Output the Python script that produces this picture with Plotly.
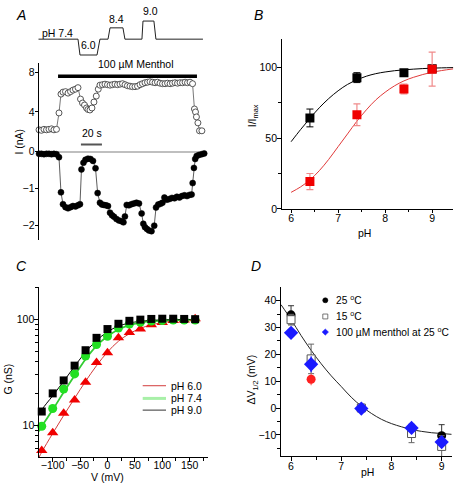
import plotly.graph_objects as go
import math

W, H = 455, 488
def fx(p): return p / W
def fy(p): return 1 - p / H

FONT = "Liberation Sans, Arial, sans-serif"
FS = 10.5

# ---------------- Panel A data ----------------
prot_t  = [0, 37.8, 39.7, 55.9, 58.7, 66.4, 68.3, 80.6, 82.5, 98.7, 99.7, 110.1, 112.0, 156.8]
prot_ph = [7.4, 7.4, 6.0, 6.0, 7.4, 7.4, 8.4, 8.4, 7.4, 7.4, 9.0, 9.0, 7.4, 7.4]
prot_labels = ["pH 7.4", "6.0", "8.4", "9.0"]

open_t = [0.7, 3.0, 5.4, 7.8, 10.2, 12.6, 14.9, 17.3, 19.7, 21.6, 23.5, 25.9, 28.3, 30.7, 33.0, 35.4, 37.8,
          40.2, 42.1, 44.0, 45.9, 47.3, 49.2, 51.1, 53.0, 55.2, 57.1, 58.7,
          61.1, 63.5, 65.9, 68.3, 70.6, 73.0, 75.4, 77.8, 80.2, 82.6, 84.9, 87.3, 89.7, 92.1, 94.5, 96.9,
          99.2, 101.6, 104.0, 106.4, 108.8, 111.2, 113.5, 115.9, 118.3, 120.7, 123.1, 125.5, 127.8, 130.2,
          132.6, 135.0, 137.4, 139.8, 142.1, 144.5, 146.9,
          148.7, 149.7, 150.6, 152.0, 153.5, 155.8]
open_i = [2.2, 2.15, 2.25, 2.2, 2.25, 2.3, 2.2, 2.25, 3.9, 5.8, 6.0, 6.05, 5.9, 6.05, 6.2, 6.3, 6.45,
          5.3, 4.9, 4.7, 4.4, 4.25, 4.2, 4.4, 5.0, 5.6, 6.3, 6.7,
          6.75, 6.8, 6.75, 6.7, 6.75, 6.8, 6.75, 6.8, 6.85, 6.75, 6.65, 6.6, 6.55, 6.55, 6.6, 6.75,
          6.85, 6.95, 7.0, 7.05, 7.0, 6.95, 7.0, 6.9, 6.85, 6.85, 6.9, 6.85, 6.9, 6.95,
          6.9, 6.95, 6.95, 7.0, 6.95, 7.0, 6.85,
          4.3, 4.0, 3.5, 2.9, 2.1, 2.1]

fill_t = [0.7, 3.0, 5.4, 7.8, 10.2, 12.6, 14.9, 17.3, 19.7, 21.6, 23.5, 25.9, 28.3, 30.7, 33.0, 35.4, 37.8, 39.7,
          41.1, 43.0, 44.9, 47.3, 49.7, 52.1, 54.5, 56.5, 58.7, 60.6, 62.5, 64.5, 66.4, 68.3, 70.2, 72.1,
          74.4, 76.8, 79.2, 81.1, 82.5, 84.2, 86.3, 88.7, 91.1, 93.5, 95.9, 98.4, 100.0, 101.6, 103.5,
          105.4, 107.8, 110.4, 112.1, 114.2, 116.3, 118.2, 120.1, 122.5, 124.9, 127.3, 129.7, 132.0,
          134.4, 136.8, 139.2, 141.6, 143.9, 146.0, 147.0, 148.2, 149.4, 150.8, 153.0, 155.6, 158.0]
fill_i = [-0.06, -0.06, -0.07, -0.06, -0.06, -0.07, -0.06, -0.07, -0.15, -1.1, -1.42, -1.5, -1.53, -1.5, -1.47, -1.48, -1.45, -1.42,
          -0.48, -0.3, -0.22, -0.19, -0.2, -0.25, -0.45, -1.12, -1.38, -1.43, -1.44, -1.45, -1.47, -1.65, -1.72, -1.76,
          -1.82, -1.86, -1.88, -1.91, -1.75, -1.44, -1.45, -1.42, -1.4, -1.38, -1.4, -1.67, -1.95, -2.04, -2.09,
          -2.13, -2.15, -2.0, -1.51, -1.43, -1.41, -1.38, -1.24, -1.3, -1.28, -1.25, -1.26, -1.22,
          -1.24, -1.2, -1.18, -1.2, -1.17, -1.16, -0.85, -0.44, -0.2, -0.12, -0.09, -0.07, -0.05]

menthol_on, menthol_off, menthol_level = 18.8, 151.1, 7.6
scalebar_start, scalebar_len, scalebar_level = 40.6, 20, 0.72

# ---------------- Panel B data ----------------
b_ph = [6.4, 7.4, 8.4, 9.0]
b_black = [64.3, 92.8, 96.3, 99.0]
b_black_err = [6.3, 3.5, 1.5, 1.0]
b_red = [19.3, 66.6, 84.8, 98.8]
b_red_err = [5.7, 7.7, 3.5, 12.0]
b_fit_ph = [6.0, 6.2, 6.4, 6.6, 6.8, 7.0, 7.2, 7.4, 7.6, 7.8, 8.0, 8.2, 8.4, 8.6, 8.8, 9.0, 9.2, 9.45]
b_fit_black = [47.5, 56, 64, 71.5, 78, 83.5, 88, 91.2, 93.8, 95.6, 96.8, 97.7, 98.3, 98.8, 99.2, 99.5, 99.7, 99.9]
b_fit_red = [11.7, 15.5, 20.5, 27, 35, 44, 53, 62, 70, 77, 82.5, 87, 90.5, 93, 95, 96.6, 97.8, 99.0]

# ---------------- Panel C data ----------------
c_v = [-120, -100, -80, -60, -40, -20, 0, 20, 40, 60, 80, 100, 120, 140, 160]
c_ph90 = [13.5, 20, 26.5, 36.5, 51, 66.7, 80.7, 90.5, 96.5, 99, 100.5, 101, 101, 100.5, 100]
c_ph74 = [9.8, 14.4, 22, 30.5, 45, 57.8, 69, 82.6, 90, 93.5, 96, 97, 98, 98, 98]
c_ph60 = [5.8, 8.5, 13, 17.3, 25.5, 39, 48.4, 66.7, 75, 81, 88.5, 93, 97, 98, 101]
c_fit_v = [-125, -120, -100, -80, -60, -40, -20, 0, 20, 40, 60, 80, 100, 120, 140, 165]
c_fit90 = [12.5, 14, 19, 26, 36, 49, 63, 76, 86, 92, 95.5, 97.5, 98.5, 99, 99.3, 99.5]
c_fit74 = [8.8, 9.8, 14, 20.5, 29.5, 42, 56, 69, 80, 88, 93, 95.5, 97, 98, 98.3, 98.5]
c_fit60 = [5.0, 5.6, 8.4, 12.4, 18, 26, 36.5, 49, 62, 73, 82, 88.5, 93, 96, 98, 99]
c_legend = ["pH 6.0", "pH 7.4", "pH 9.0"]

# ---------------- Panel D data ----------------
d_ph_black = [6.0, 7.4, 8.4, 9.0]
d_black = [34.7, 0.0, -7.6, -10.3]
d_black_err = [3.4, 0.5, 1.5, 4.1]
d_ph_sq = [6.0, 6.4, 7.4, 8.4, 9.0]
d_sq = [32.9, 18.3, 0.0, -9.5, -14.3]
d_sq_err = [2.0, 5.5, 0.5, 3.4, 4.0]
d_ph_dia = [6.0, 6.4, 7.4, 8.4, 9.0]
d_dia = [28.0, 16.3, -0.2, -7.4, -12.7]
d_dia_err = [1.5, 3.0, 0.5, 1.0, 2.0]
d_ph_red = [6.4]
d_red = [10.7]
d_red_err = [2.2]
d_fit_ph = [5.8, 6.0, 6.2, 6.4, 6.6, 6.8, 7.0, 7.2, 7.4, 7.6, 7.8, 8.0, 8.2, 8.4, 8.6, 8.8, 9.0, 9.2]
d_fit = [38.5, 33, 27, 21.5, 16.5, 12, 8, 4, 0.7, -2, -4.2, -5.8, -7, -8, -8.7, -9.2, -9.5, -9.8]
d_legend = ["25 <sup>o</sup>C", "15 <sup>o</sup>C", "100 \u00b5M menthol at 25 <sup>o</sup>C"]

fig = go.Figure()

# ---- Panel A traces ----
fig.add_trace(go.Scatter(x=prot_t, y=prot_ph, mode='lines', line=dict(color='#222', width=1),
                         xaxis='x', yaxis='y', showlegend=False, hoverinfo='skip'))
fig.add_trace(go.Scatter(x=open_t, y=open_i, mode='lines+markers', cliponaxis=False,
                         line=dict(color='#555', width=0.8),
                         marker=dict(symbol='circle', size=6, color='white', line=dict(color='#444', width=0.9)),
                         xaxis='x', yaxis='y2', showlegend=False))
fig.add_trace(go.Scatter(x=fill_t, y=fill_i, mode='lines+markers', cliponaxis=False,
                         line=dict(color='#333', width=0.8),
                         marker=dict(symbol='circle', size=6, color='black', line=dict(color='black', width=0.5)),
                         xaxis='x', yaxis='y3', showlegend=False))

# ---- Panel B traces ----
fig.add_trace(go.Scatter(x=b_fit_ph, y=b_fit_black, mode='lines', line=dict(color='black', width=1, shape='spline'),
                         xaxis='x2', yaxis='y4', showlegend=False))
fig.add_trace(go.Scatter(x=b_fit_ph, y=b_fit_red, mode='lines', line=dict(color='#e03a3a', width=1, shape='spline'),
                         xaxis='x2', yaxis='y4', showlegend=False))
fig.add_trace(go.Scatter(x=b_ph, y=b_black, mode='markers',
                         marker=dict(symbol='square', size=9, color='black'),
                         error_y=dict(type='data', array=b_black_err, color='black', thickness=1, width=3.5),
                         xaxis='x2', yaxis='y4', showlegend=False))
fig.add_trace(go.Scatter(x=b_ph, y=b_red, mode='markers',
                         marker=dict(symbol='square', size=9, color='#f00000'),
                         error_y=dict(type='data', array=b_red_err, color='#f08a8a', thickness=1.2, width=3.5),
                         xaxis='x2', yaxis='y4', showlegend=False))

# ---- Panel C traces ----
fig.add_trace(go.Scatter(x=c_fit_v, y=c_fit60, mode='lines', line=dict(color='#d23c3c', width=1, shape='spline'),
                         xaxis='x3', yaxis='y5', showlegend=False))
fig.add_trace(go.Scatter(x=c_fit_v, y=c_fit74, mode='lines', line=dict(color='#33cc33', width=1.8, shape='spline'),
                         xaxis='x3', yaxis='y5', showlegend=False))
fig.add_trace(go.Scatter(x=c_fit_v, y=c_fit90, mode='lines', line=dict(color='black', width=1, shape='spline'),
                         xaxis='x3', yaxis='y5', showlegend=False))
fig.add_trace(go.Scatter(x=c_v, y=c_ph60, mode='markers', cliponaxis=False,
                         marker=dict(symbol='triangle-up', size=10, color='#f00000'),
                         xaxis='x3', yaxis='y5', showlegend=False))
fig.add_trace(go.Scatter(x=c_v, y=c_ph74, mode='markers', cliponaxis=False,
                         marker=dict(symbol='circle', size=9, color='#22e022'),
                         xaxis='x3', yaxis='y5', showlegend=False))
fig.add_trace(go.Scatter(x=c_v, y=c_ph90, mode='markers', cliponaxis=False,
                         marker=dict(symbol='square', size=8, color='black'),
                         xaxis='x3', yaxis='y5', showlegend=False))

# ---- Panel D traces ----
fig.add_trace(go.Scatter(x=d_fit_ph, y=d_fit, mode='lines', line=dict(color='#222', width=1, shape='spline'),
                         xaxis='x4', yaxis='y6', showlegend=False))
fig.add_trace(go.Scatter(x=d_ph_black, y=d_black, mode='markers',
                         marker=dict(symbol='circle', size=9, color='black'),
                         error_y=dict(type='data', array=d_black_err, color='#333', thickness=1, width=3),
                         xaxis='x4', yaxis='y6', showlegend=False))
fig.add_trace(go.Scatter(x=d_ph_sq, y=d_sq, mode='markers',
                         marker=dict(symbol='square', size=8, color='white', line=dict(color='#555', width=1)),
                         error_y=dict(type='data', array=d_sq_err, color='#666', thickness=1, width=3),
                         xaxis='x4', yaxis='y6', showlegend=False))
fig.add_trace(go.Scatter(x=d_ph_dia, y=d_dia, mode='markers',
                         marker=dict(symbol='diamond', size=11, color='#1a1aff'),
                         error_y=dict(type='data', array=d_dia_err, color='#1a1aff', thickness=1.2, width=0),
                         xaxis='x4', yaxis='y6', showlegend=False))
fig.add_trace(go.Scatter(x=d_ph_red, y=d_red, mode='markers',
                         marker=dict(symbol='circle', size=9, color='#ff2020'),
                         error_y=dict(type='data', array=d_red_err, color='#ff6060', thickness=1.2, width=0),
                         xaxis='x4', yaxis='y6', showlegend=False))

axis_style = dict(showline=True, linecolor='black', linewidth=1.2, ticks='outside', ticklen=3.5,
                  tickwidth=1.1, tickcolor='black', showgrid=False, zeroline=False,
                  tickfont=dict(size=FS, color='black', family=FONT))
xstyle = dict(axis_style, ticklabelstandoff=-4)
xstyle_c = dict(axis_style, ticklabelstandoff=-6)
ystyle = dict(axis_style, ticklabelstandoff=-2)
minor_style = dict(ticks='outside', ticklen=2.5, tickwidth=1, tickcolor='black', showgrid=False)

# time axis for panel A
t_range = [0, 159.7]
fig.update_layout(
    width=W, height=H, autosize=False,
    margin=dict(l=0, r=0, t=0, b=0),
    paper_bgcolor='white', plot_bgcolor='white',
    font=dict(family=FONT, size=FS, color='black'),
    xaxis=dict(domain=[fx(38.3), fx(206)], range=t_range, visible=False, anchor='y3'),
    yaxis=dict(domain=[fy(55), fy(5)], range=[5.59, 9.9], visible=False, anchor='x'),
    yaxis2=dict(domain=[fy(149.3), fy(58.3)], range=[0, 8.95], tickvals=[4, 8], anchor='free',
                position=fx(38.3), **ystyle),
    yaxis3=dict(domain=[fy(240), fy(149.3)], range=[-2.39, 0], tickvals=[-2, -1, 0], anchor='free',
                position=fx(38.3), **ystyle),
    xaxis2=dict(domain=[fx(281.7), fx(453.3)], range=[5.8, 9.45], tickvals=[6, 7, 8, 9], anchor='y4',
                minor=dict(tickvals=[6.5, 7.5, 8.5], **minor_style), **xstyle),
    yaxis4=dict(domain=[fy(208), fy(34)], range=[0, 120], tickvals=[0, 50, 100], anchor='x2',
                minor=dict(tickvals=[25, 75], **minor_style), **ystyle),
    xaxis3=dict(domain=[fx(39), fx(208.3)], range=[-125, 184], tickvals=[-100, -50, 0, 50, 100, 150], anchor='y5',
                minor=dict(tickvals=[-75, -25, 25, 75, 125, 175], **minor_style), **xstyle_c),
    yaxis5=dict(domain=[fy(462.7), fy(288.3)], type='log', range=[math.log10(5), math.log10(200)],
                tickvals=[10, 100], anchor='x3',
                minor=dict(tickvals=[6, 7, 8, 9, 20, 30, 40, 50, 60, 70, 80, 90, 200], **minor_style), **ystyle),
    xaxis4=dict(domain=[fx(281), fx(451.7)], range=[5.8, 9.2], tickvals=[6, 7, 8, 9], anchor='y6',
                minor=dict(tickvals=[6.5, 7.5, 8.5], **minor_style), **xstyle),
    yaxis6=dict(domain=[fy(461.7), fy(288.3)], range=[-18, 45], tickvals=[-10, 0, 10, 20, 30, 40], anchor='x4',
                minor=dict(tickvals=[-15, -5, 5, 15, 25, 35], **minor_style), **ystyle),
)

shapes = []
# zero line panel A
shapes.append(dict(type='line', xref='x', yref='y3', x0=t_range[0], x1=t_range[1], y0=0, y1=0,
                   line=dict(color='black', width=1.2)))
# menthol bar
shapes.append(dict(type='line', xref='x', yref='y2', x0=menthol_on, x1=menthol_off, y0=menthol_level, y1=menthol_level,
                   line=dict(color='black', width=3.5)))
# scale bar
shapes.append(dict(type='line', xref='x', yref='y2', x0=scalebar_start, x1=scalebar_start + scalebar_len,
                   y0=scalebar_level, y1=scalebar_level, line=dict(color='#555', width=1.8)))
# C legend swatches
leg_c_y = [389.3, 402.3, 414.3]
leg_c_col = ['#d23c3c', '#a8f0a8', '#333']
leg_c_w = [1, 3, 1]
for yy, cc, ww in zip(leg_c_y, leg_c_col, leg_c_w):
    shapes.append(dict(type='line', xref='paper', yref='paper', x0=fx(142.7), x1=fx(166), y0=fy(yy), y1=fy(yy),
                       line=dict(color=cc, width=ww)))
# D legend markers
ly = [301.7, 318.3, 334.3]
mx = 325.3
shapes.append(dict(type='circle', xref='paper', yref='paper', x0=fx(mx - 2.6), x1=fx(mx + 2.6),
                   y0=fy(ly[0] + 2.6), y1=fy(ly[0] - 2.6), fillcolor='black', line=dict(color='black', width=0.5)))
shapes.append(dict(type='rect', xref='paper', yref='paper', x0=fx(mx - 2.5), x1=fx(mx + 2.5),
                   y0=fy(ly[1] + 2.5), y1=fy(ly[1] - 2.5), fillcolor='white', line=dict(color='#555', width=0.8)))
d = 3.2
path = "M {} {} L {} {} L {} {} L {} {} Z".format(fx(mx), fy(ly[2] - d), fx(mx + d), fy(ly[2]),
                                                   fx(mx), fy(ly[2] + d), fx(mx - d), fy(ly[2]))
shapes.append(dict(type='path', xref='paper', yref='paper', path=path, fillcolor='#1a1aff',
                   line=dict(color='#1a1aff', width=0.5)))
fig.update_layout(shapes=shapes)

ann = []
def text(px, py, s, size=FS, xanchor='center', yanchor='middle', angle=0):
    ann.append(dict(x=fx(px), y=fy(py), xref='paper', yref='paper', text=s, showarrow=False,
                    xanchor=xanchor, yanchor=yanchor, textangle=angle,
                    font=dict(size=size, color='black', family=FONT)))

# panel letters
text(21, 9, "<i>A</i>", size=14)
text(258, 9, "<i>B</i>", size=14)
text(21, 267, "<i>C</i>", size=14)
text(256, 267, "<i>D</i>", size=14)
# protocol labels
text(57.5, 27.5, prot_labels[0])
text(88, 40, prot_labels[1])
text(117, 13.5, prot_labels[2])
text(150, 5.5, prot_labels[3])
# panel A texts
text(136, 59.5, "100 \u00b5M Menthol")
text(92, 130.5, "20 s")
text(19, 139, "I (nA)", angle=-90)
# B labels
text(253, 113, "I/I<sub>max</sub>", angle=-90)
text(364, 233, "pH")
# C labels
text(8, 383, "G (nS)", angle=-90)
text(107, 482.5, "V (mV)")
for yy, s in zip(leg_c_y, c_legend):
    text(169, yy, s, xanchor='left')
# D labels
text(252, 383, "\u0394V<sub>1/2</sub> (mV)", angle=-90)
text(367, 478, "pH")
for yy, s in zip(ly, d_legend):
    text(333.5, yy, s, xanchor='left', size=10.2)
fig.update_layout(annotations=ann)

fig.write_html("out.html", config={'displayModeBar': False},
               post_script="document.body.style.margin='0px';document.body.style.overflow='hidden';")
